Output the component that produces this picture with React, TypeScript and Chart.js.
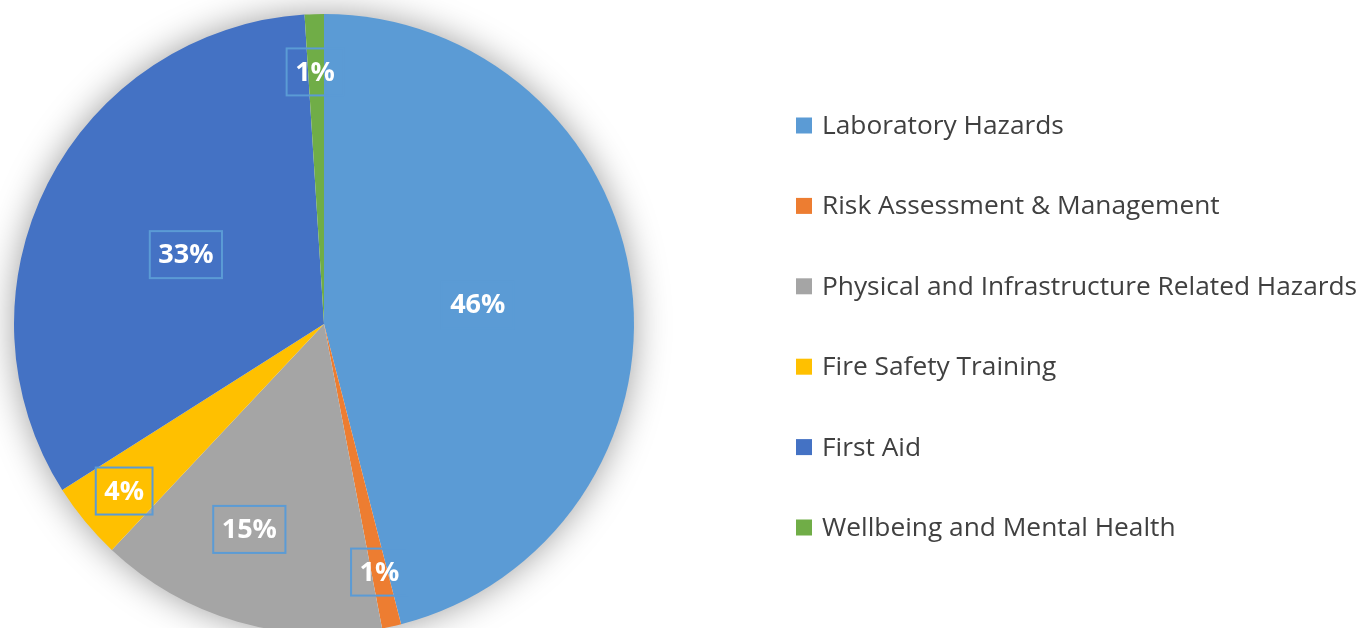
import React, { useEffect, useRef } from "react";
import { Chart, registerables } from "chart.js";

Chart.register(...registerables);

const categories: string[] = [
  "Laboratory Hazards",
  "Risk Assessment & Management",
  "Physical and Infrastructure Related Hazards",
  "Fire Safety Training",
  "First Aid",
  "Wellbeing and Mental Health",
];
const shares: number[] = [46, 1, 15, 4, 33, 1];
const sliceColors: string[] = ["#5B9BD5", "#ED7D31", "#A5A5A5", "#FFC000", "#4472C4", "#70AD47"];

// label nudges (pixels) to mimic the reference's manual label placement
const labelNudges: [number, number][] = [
  [0, 0],
  [0, 0],
  [-15, 0],
  [-4, 5],
  [0, 1],
  [-1, 2],
];

const W = 1360;
const H = 648;

const shadowPlugin = {
  id: "pieShadow",
  beforeDatasetsDraw(chart: any) {
    const meta = chart.getDatasetMeta(0);
    const arc = meta.data[0];
    if (!arc) return;
    const { x, y, outerRadius } = arc.getProps(["x", "y", "outerRadius"], true);
    const ctx = chart.ctx;
    ctx.save();
    ctx.shadowColor = "rgba(0,0,0,0.4)";
    ctx.shadowBlur = 36;
    ctx.shadowOffsetX = 0;
    ctx.shadowOffsetY = 0;
    ctx.beginPath();
    ctx.arc(x, y, outerRadius - 1, 0, Math.PI * 2);
    ctx.fillStyle = "#ffffff";
    ctx.fill();
    ctx.restore();
  },
};

const labelPlugin = {
  id: "pieLabels",
  afterDatasetsDraw(chart: any) {
    const meta = chart.getDatasetMeta(0);
    const values: number[] = chart.data.datasets[0].data;
    const total = values.reduce((a, b) => a + b, 0);
    const ctx = chart.ctx;
    ctx.save();
    ctx.font = "bold 27px 'Open Sans'";
    ctx.textAlign = "center";
    ctx.textBaseline = "middle";
    meta.data.forEach((arc: any, i: number) => {
      const { x, y, startAngle, endAngle, outerRadius } = arc.getProps(
        ["x", "y", "startAngle", "endAngle", "outerRadius"],
        true
      );
      const pct = (values[i] / total) * 100;
      const mid = (startAngle + endAngle) / 2;
      const f = pct >= 25 ? 0.5 : pct >= 10 ? 0.69 : 0.82;
      const nudge = labelNudges[i] || [0, 0];
      const lx = x + Math.cos(mid) * outerRadius * f + nudge[0];
      const ly = y + Math.sin(mid) * outerRadius * f + nudge[1];
      const text = Math.round(pct) + "%";
      const tw = ctx.measureText(text).width;
      const bw = tw + 17;
      const bh = 47;
      ctx.strokeStyle = "#5B9BD5";
      ctx.lineWidth = 2;
      ctx.strokeRect(lx - bw / 2, ly - bh / 2, bw, bh);
      ctx.fillStyle = "#ffffff";
      ctx.fillText(text, lx, ly + 1);
    });
    ctx.restore();
  },
};

const legendPlugin = {
  id: "sideLegend",
  afterDraw(chart: any) {
    const ctx = chart.ctx;
    const labels: string[] = chart.data.labels;
    const colors: string[] = chart.data.datasets[0].backgroundColor;
    const x0 = 796;
    const y0 = 125.5;
    const step = 80.4;
    ctx.save();
    ctx.font = "26.3px 'Open Sans'";
    ctx.textAlign = "left";
    ctx.textBaseline = "middle";
    labels.forEach((lab, i) => {
      const cy = y0 + i * step;
      ctx.fillStyle = colors[i];
      ctx.fillRect(x0, cy - 8, 16, 16);
      ctx.fillStyle = "#404040";
      ctx.fillText(lab, x0 + 26, cy + 1);
    });
    ctx.restore();
  },
};

export default function App() {
  const ref = useRef<HTMLCanvasElement | null>(null);
  useEffect(() => {
    if (!ref.current) return;
    const chart = new Chart(ref.current, {
      type: "pie",
      data: {
        labels: categories,
        datasets: [
          {
            data: shares,
            backgroundColor: sliceColors,
            borderWidth: 0,
          },
        ],
      },
      options: {
        responsive: false,
        animation: false,
        layout: { padding: { left: 14, top: 14, right: W - 634, bottom: H - 634 } },
        plugins: {
          legend: { display: false },
          tooltip: { enabled: false },
          title: { display: false },
        },
      },
      plugins: [shadowPlugin, labelPlugin, legendPlugin],
    });
    return () => chart.destroy();
  }, []);
  return (
    <div
      style={{
        position: "fixed",
        left: 0,
        top: 0,
        width: 1360,
        height: 628,
        overflow: "hidden",
        background: "#ffffff",
      }}
    >
      <canvas ref={ref} width={W} height={H} style={{ display: "block", width: W, height: H }} />
    </div>
  );
}
